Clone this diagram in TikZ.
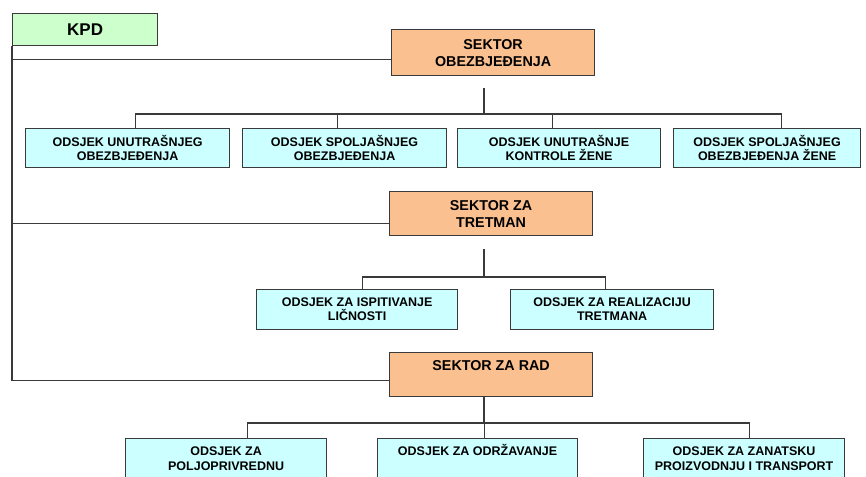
\documentclass[tikz,border=0pt]{standalone}
\usepackage{fontspec}
\setmainfont{Liberation Sans}
\usetikzlibrary{calc}
\definecolor{orangefill}{HTML}{FAC090}
\definecolor{cyanfill}{HTML}{CCFFFF}
\definecolor{greenfill}{HTML}{CCFFCC}
\definecolor{edgegray}{HTML}{3A3A3A}
\begin{document}
\begin{tikzpicture}[x=1pt,y=-1pt,
  base/.style={draw=edgegray, line width=1.2pt, inner sep=0pt, anchor=north west},
  box/.style={base, align=center},
  kpdbox/.style={box, fill=greenfill, font=\fontsize{17}{19}\selectfont\bfseries},
  sector/.style={box, fill=orangefill, minimum width=203pt, font=\fontsize{14.3}{17}\selectfont\bfseries},
  sectortop/.style={base, fill=orangefill, minimum width=203pt, font=\fontsize{14.3}{17}\selectfont\bfseries, text height=18pt, text depth=26pt},
  unit/.style={box, fill=cyanfill, font=\fontsize{12.5}{14}\selectfont\bfseries},
  unittop/.style={base, fill=cyanfill, font=\fontsize{12.5}{15}\selectfont\bfseries, text height=17pt, text depth=50pt},
  conn/.style={draw=edgegray, line width=1.2pt}]
\useasboundingbox (0,0) rectangle (866,476);
\clip (0,0) rectangle (866,476);

% nodes
\node[kpdbox, minimum width=145pt, minimum height=32pt] (kpd) at (12,13) {KPD};

\node[sector, minimum height=46pt] (s1) at (391,29) {SEKTOR\\OBEZBJEĐENJA};
\node[unit, minimum width=204pt, minimum height=39pt] (c1) at (25,128) {ODSJEK UNUTRAŠNJEG\\OBEZBJEĐENJA};
\node[unit, minimum width=204pt, minimum height=39pt] (c2) at (242,128) {ODSJEK SPOLJAŠNJEG\\OBEZBJEĐENJA};
\node[unit, minimum width=203pt, minimum height=39pt] (c3) at (457,128) {ODSJEK UNUTRAŠNJE\\KONTROLE ŽENE};
\node[unit, minimum width=187pt, minimum height=39pt] (c4) at (673,128) {ODSJEK SPOLJAŠNJEG\\OBEZBJEĐENJA ŽENE};

\node[sector, minimum height=44pt] (s2) at (389,191) {SEKTOR ZA\\TRETMAN};
\node[unit, minimum width=201pt, minimum height=40pt] (c5) at (256,289) {ODSJEK ZA ISPITIVANJE\\LIČNOSTI};
\node[unit, minimum width=203pt, minimum height=40pt] (c6) at (510,289) {ODSJEK ZA REALIZACIJU\\TRETMANA};

\node[sectortop] (s3) at (389,352) {SEKTOR ZA RAD};
\node[unittop] (c7) at (125,438) {\parbox[t]{201pt}{\centering ODSJEK ZA\\POLJOPRIVREDNU}};
\node[unittop] (c8) at (377,438) {\parbox[t]{200pt}{\centering ODSJEK ZA ODRŽAVANJE}};
\node[unittop] (c9) at (643,438) {\parbox[t]{201pt}{\centering ODSJEK ZA ZANATSKU\\PROIZVODNJU I TRANSPORT}};

% KPD connectors
\draw[conn] (kpd.south west) |- ([yshift=-7pt]s1.west);
\draw[conn] (kpd.south west) |- ([yshift=-10pt]s2.west);
\draw[conn] (kpd.south west) |- ([yshift=-6pt]s3.west);

% sector 1 bus
\coordinate (b1) at (484,88);
\coordinate (j1) at (484,114);
\draw[conn] (b1) -- (j1);
\foreach \n/\dx in {c1/8,c2/-7,c3/-7,c4/14.5}
  \draw[conn] (j1) -| ([xshift=\dx pt]\n.north);

% sector 2 bus
\coordinate (b2) at (484,249);
\coordinate (j2) at (484,277);
\draw[conn] (b2) -- (j2);
\foreach \n/\dx in {c5/5.5,c6/-6.5}
  \draw[conn] (j2) -| ([xshift=\dx pt]\n.north);

% sector 3 bus
\coordinate (j3) at (484,423);
\draw[conn] (s3.south -| j3) -- (j3);
\foreach \n/\dx in {c7/21.5,c8/7,c9/5.5}
  \draw[conn] (j3) -| ([xshift=\dx pt]\n.north);
\end{tikzpicture}
\end{document}
